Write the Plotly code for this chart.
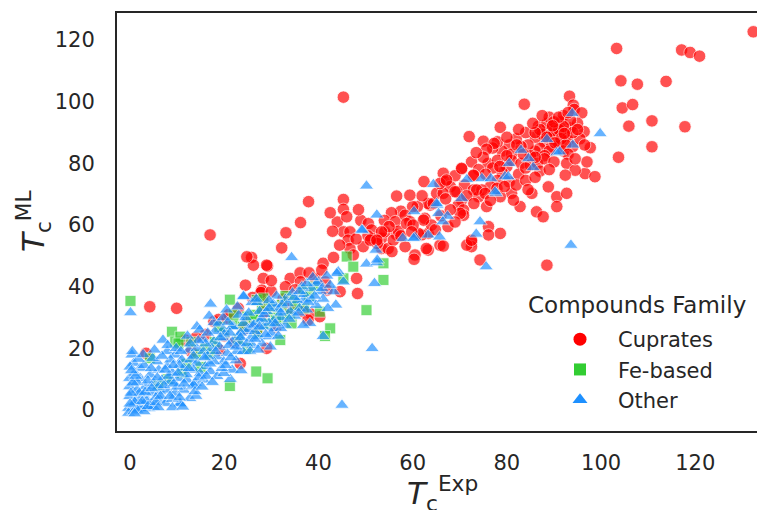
import plotly.graph_objects as go

# ---------------- data (T_c^Exp, T_c^ML) ----------------
cuprates_pts = [
    (132.3, 122.7), (103.3, 117.3), (117.1, 116.8), (118.9, 116.0), (120.9, 114.8),
    (104.2, 106.8), (107.7, 105.7), (113.8, 106.6), (104.5, 98.0), (106.7, 99.1),
    (105.9, 92.1), (110.8, 93.8), (117.8, 91.9), (110.8, 85.4), (103.7, 82.0),
    (97.7, 85.1), (96.6, 76.7), (98.7, 75.7), (93.3, 101.8), (83.7, 99.2),
    (94.1, 98.9), (94.3, 97.5), (95.9, 96.4), (78.6, 91.7), (72.0, 88.7),
    (86.7, 92.1), (96.4, 90.3),
    (88.5, 90.0), (89.5, 91.5), (90.5, 92.5), (91.5, 90.5), (92.5, 89.0), (90.0, 88.0),
    (88.0, 87.0), (91.0, 86.5), (93.0, 87.5), (89.5, 85.5), (87.0, 85.0), (92.0, 84.0),
    (94.0, 85.5), (86.0, 88.5), (90.5, 89.5), (93.5, 91.5), (91.5, 93.5), (88.5, 93.0),
    (87.5, 89.5), (86.0, 84.0), (84.5, 86.0), (85.0, 82.5), (83.0, 85.5), (82.0, 88.0),
    (84.0, 90.0), (80.5, 86.0), (79.0, 84.0), (81.0, 83.0), (78.0, 87.0), (77.0, 85.0),
    (75.0, 87.2), (77.3, 86.5), (75.7, 84.6), (82.1, 86.0), (95.5, 88.0), (95.0, 93.0),
    (89.0, 95.0), (92.0, 95.5), (93.5, 94.0),
    (89.0, 89.0), (90.0, 90.5), (91.0, 91.0), (92.0, 92.0), (90.0, 93.5), (91.5, 88.0),
    (92.5, 86.0), (89.0, 84.0), (88.0, 82.5), (93.0, 83.0), (94.0, 90.0), (95.0, 91.0),
    (91.0, 95.0), (93.0, 96.5), (87.0, 91.0), (86.0, 90.0), (88.5, 88.5), (90.2, 86.7),
    (92.2, 89.7), (89.7, 92.2),
    (72.5, 80.5), (70.4, 78.2), (66.5, 76.8), (66.9, 74.1), (62.4, 74.1), (76.0, 80.0),
    (78.0, 81.0), (80.0, 79.0), (79.0, 77.0), (77.0, 78.5), (81.0, 81.0), (83.0, 80.0),
    (85.0, 79.5), (74.0, 78.0), (73.0, 76.0), (75.5, 76.5), (78.0, 74.5), (80.5, 74.0),
    (82.5, 76.5), (84.0, 78.5), (86.5, 80.0), (88.0, 81.5), (90.0, 80.5), (87.0, 77.5),
    (89.0, 78.0), (92.7, 80.0), (94.5, 77.8), (92.4, 76.2), (71.0, 73.0), (69.0, 76.0),
    (68.0, 72.5), (76.5, 72.5),
    (88.8, 72.4), (90.6, 69.2), (92.7, 70.3), (90.6, 66.0), (86.3, 64.3), (87.7, 62.7),
    (85.3, 70.3), (82.8, 66.0), (81.0, 70.3), (81.4, 68.1), (78.6, 57.3), (72.5, 54.6),
    (72.5, 53.0), (74.3, 48.7), (88.5, 47.0), (76.1, 59.5), (76.1, 56.8), (63.7, 66.5),
    (62.6, 62.2), (63.3, 57.3), (61.9, 56.8), (65.8, 53.5), (63.3, 51.9), (69.4, 70.8),
    (70.4, 68.1), (69.7, 66.5), (72.9, 71.4), (74.0, 69.2), (75.7, 66.0), (74.7, 71.4),
    (70.8, 64.9), (70.8, 63.2), (71.5, 53.5), (72.5, 55.1),
    (63.3, 67.0), (64.4, 67.0), (65.1, 70.3), (66.5, 70.3), (65.8, 73.5), (67.2, 74.6),
    (69.0, 70.8), (70.4, 78.4), (72.9, 76.2), (73.6, 71.4), (75.4, 70.3), (77.9, 71.9),
    (78.6, 69.2), (70.1, 63.8),
    (57.5, 64.5), (61.0, 66.0), (64.0, 60.0), (66.0, 63.0), (68.0, 65.0), (67.0, 68.5),
    (71.5, 69.5), (73.0, 67.0), (76.5, 68.0), (79.5, 72.5), (82.0, 73.0), (84.0, 74.5),
    (86.0, 75.5), (78.5, 79.0), (75.0, 82.0), (73.5, 83.5), (80.0, 82.5), (83.5, 83.0),
    (86.0, 82.0), (84.5, 71.5), (62.0, 69.5), (60.0, 66.0), (55.5, 64.0), (67.5, 59.5),
    (69.0, 61.0), (64.8, 58.5), (56.5, 57.0), (54.0, 61.5), (49.0, 61.5), (44.0, 61.0),
    (42.5, 64.0), (48.5, 65.0), (80.0, 88.5), (82.5, 91.0), (85.5, 93.0), (87.5, 95.5),
    (96.5, 86.0), (97.0, 80.5), (94.5, 81.5),
    (56.6, 69.4), (59.4, 69.7), (45.3, 68.3), (45.3, 65.1), (46.0, 62.7), (37.9, 67.6),
    (36.2, 60.8), (33.1, 57.5), (32.2, 52.6), (25.8, 49.5), (26.2, 47.0), (29.2, 46.7),
    (28.3, 42.7), (28.0, 38.4), (28.3, 35.1), (34.0, 42.7), (36.1, 44.5), (36.2, 41.6),
    (39.3, 42.7), (41.4, 41.6), (41.0, 47.6), (43.2, 49.5), (41.8, 38.9), (45.3, 57.8),
    (46.7, 57.8), (46.3, 55.1), (46.7, 52.4), (48.1, 42.7), (48.3, 37.8), (47.4, 50.3),
    (50.6, 60.5), (51.3, 58.4), (51.3, 55.7), (53.4, 55.7), (53.4, 52.4), (54.8, 52.4),
    (54.1, 57.8), (56.3, 61.1), (58.4, 63.2), (59.4, 61.1), (62.3, 61.6), (61.2, 57.3),
    (58.4, 53.0), (60.5, 50.3), (60.3, 48.9), (62.9, 52.4), (55.9, 55.1), (40.3, 30.3),
    (38.2, 31.4), (66.5, 53.2), (40.7, 45.4), (44.6, 38.4), (45.3, 101.5), (50.5, 56.5),
    (52.5, 54.0), (57.0, 58.0), (55.0, 59.5), (57.5, 56.5), (49.5, 53.0), (48.0, 55.5),
    (44.5, 53.5), (43.0, 58.0), (51.0, 55.1), (53.4, 57.8), (52.4, 55.1), (55.6, 51.4),
    (58.7, 60.5), (60.1, 60.0), (59.8, 57.8),
    (17.0, 56.8), (24.8, 49.7), (29.0, 47.0), (28.0, 38.9), (4.2, 33.5), (9.9, 33.0),
    (11.7, 22.7), (3.4, 18.4), (29.0, 20.0), (23.4, 15.1), (36.7, 31.9), (37.8, 29.2),
    (17.8, 28.7), (18.8, 29.4), (20.6, 29.8), (27.8, 38.1), (28.4, 31.6), (30.0, 38.5),
    (32.5, 36.0), (34.0, 33.0), (24.0, 26.0), (20.0, 24.0), (13.0, 19.0),
    (21.0, 31.0), (23.0, 33.0), (25.0, 28.5), (26.0, 36.5), (22.2, 22.0), (19.0, 19.5),
    (16.0, 24.5), (14.0, 23.5), (27.0, 26.0), (31.0, 27.0), (33.0, 40.0), (35.0, 39.0),
    (38.0, 44.5), (30.0, 42.0), (24.5, 40.5),
]

fe_based_pts = [
    (0.1, 35.4), (21.2, 35.8), (24.9, 30.3), (26.6, 30.9), (30.5, 30.9), (31.9, 22.7),
    (8.9, 25.4), (9.6, 22.2), (10.7, 23.8), (10.3, 21.6), (4.2, 16.8), (26.8, 12.5),
    (29.2, 10.3), (21.2, 7.8), (46.0, 49.8), (47.4, 46.5), (53.8, 47.6), (53.8, 42.2),
    (50.2, 32.4), (45.3, 42.7), (40.3, 31.9), (42.5, 26.5), (41.4, 24.0), (26.9, 35.7),
    (28.3, 36.2), (32.2, 34.1), (32.5, 29.7), (34.3, 28.1), (26.2, 29.7), (34.0, 31.0),
    (36.8, 38.9), (12.0, 15.0), (14.0, 18.0), (16.0, 20.0), (18.0, 22.0), (20.0, 25.0),
    (22.0, 28.0), (24.0, 27.0), (28.0, 33.0), (30.0, 33.5), (33.0, 37.0), (35.0, 36.0),
    (38.0, 37.0), (22.0, 31.0), (19.0, 27.0), (15.0, 14.0), (11.0, 12.0), (8.0, 10.0),
    (6.0, 8.0), (17.0, 18.0), (25.0, 20.0), (27.0, 25.0), (29.0, 28.0), (31.0, 29.0),
    (23.0, 23.0), (13.0, 22.0), (39.0, 40.0), (37.0, 33.0), (35.0, 34.0),
]

other_pts = [
    (93.9, 96.2), (99.8, 89.7), (88.5, 87.8), (90.6, 83.5), (91.2, 83.8), (94.0, 86.0),
    (83.0, 84.3), (84.6, 81.6), (85.6, 78.7), (80.5, 80.0), (79.6, 75.7), (80.3, 75.7),
    (74.7, 75.1), (76.6, 75.1), (71.5, 74.8), (64.4, 73.2), (77.7, 70.3), (70.4, 68.7),
    (65.2, 66.5), (65.5, 63.8), (67.4, 62.9), (66.4, 61.1), (74.3, 61.1), (73.5, 57.1),
    (63.3, 56.8), (65.7, 56.2), (93.6, 53.5), (75.6, 46.5), (77.5, 70.8), (60.5, 56.0),
    (57.9, 55.7), (65.1, 67.0),
    (50.2, 72.7), (52.4, 63.3), (60.3, 64.4), (49.4, 58.3), (60.2, 55.7), (52.2, 51.9),
    (34.3, 49.5), (50.2, 47.4), (52.4, 47.8), (44.2, 44.9), (45.3, 41.6), (51.9, 41.1),
    (40.0, 41.6), (40.5, 38.4), (43.2, 38.4), (43.7, 34.1), (49.2, 58.4), (52.5, 48.7),
    (39.6, 41.1), (43.9, 44.3), (38.2, 28.1), (36.8, 35.7), (41.0, 23.9), (51.4, 20.0),
    (45.0, 1.6),
    (33.0, 36.0), (34.5, 38.0), (35.5, 35.5), (37.0, 37.5), (38.5, 36.0), (36.0, 33.0),
    (34.0, 32.0), (32.0, 30.0), (35.0, 30.5), (37.5, 32.5), (39.5, 34.0), (41.0, 36.0),
    (42.0, 33.0), (33.0, 27.5), (30.5, 29.0), (31.0, 33.5), (29.0, 32.0), (27.5, 29.0),
    (26.0, 27.5), (24.5, 25.5), (23.0, 24.0), (22.0, 27.0), (38.5, 39.5), (36.5, 40.0),
    (0.1, 31.6), (17.1, 34.4), (24.1, 37.0), (25.9, 34.9), (27.0, 34.9), (31.1, 37.0),
    (30.4, 34.4), (31.6, 32.7), (32.3, 34.1), (14.2, 27.1), (7.0, 22.7), (21.3, 10.0),
    (21.7, 13.0), (17.8, 28.4), (19.8, 26.2), (21.7, 27.1), (23.1, 30.8), (24.1, 28.1),
    (25.2, 26.2), (26.3, 27.6), (28.4, 26.9), (29.5, 28.2), (30.5, 26.5), (15.5, 23.0),
    (17.8, 22.2), (19.9, 23.3), (21.7, 22.2), (23.4, 21.7), (25.6, 23.3), (27.3, 23.8),
    (29.5, 23.8), (12.5, 19.5), (14.2, 20.0), (15.6, 19.0), (17.4, 20.0), (18.5, 17.3),
    (20.6, 18.4), (22.7, 19.0), (19.9, 15.7), (17.8, 15.7), (7.9, 19.0), (9.6, 17.9),
    (11.0, 16.3), (12.8, 16.3), (14.2, 15.2), (16.0, 14.1), (11.4, 13.6), (13.5, 13.0),
    (14.9, 11.9), (17.1, 12.5), (0.4, 17.9), (0.8, 15.2), (2.2, 13.6), (-0.1, 10.3),
    (2.2, 10.3), (4.3, 11.4), (6.1, 13.0), (7.9, 14.1), (5.7, 15.7), (8.6, 16.3),
    (-0.1, 7.6), (1.5, 6.5), (3.3, 7.6), (5.0, 8.7), (6.8, 9.8), (8.6, 9.2),
    (10.3, 10.3), (12.1, 9.8), (13.9, 8.7), (15.6, 9.8), (18.5, 10.9), (19.9, 11.9),
    (-0.1, 4.4), (1.5, 3.8), (2.9, 4.9), (4.7, 5.5), (6.4, 6.0), (7.9, 6.5),
    (9.6, 5.5), (11.4, 6.5), (13.2, 7.6), (-0.3, 0.6), (0.8, 1.7), (2.5, 1.7),
    (4.3, 2.2), (6.4, 3.3), (7.5, 2.2), (10.7, 2.0), (13.5, 8.1), (-0.3, -1.0),
    (0.8, -0.5), (2.2, 0.6), (12.7, 3.8), (10.6, 2.2), (24.1, 36.8),
    (1.0, 12.0), (3.0, 14.5), (0.5, 19.0), (1.5, 9.0), (3.5, 3.0), (5.5, 4.0),
    (9.0, 3.5), (9.0, 12.0), (10.5, 14.5), (12.0, 11.5), (6.0, 7.5), (4.0, 0.5),
    (1.0, 2.5), (2.0, 5.5), (16.5, 17.5), (19.0, 20.5), (21.0, 21.0), (23.5, 25.0),
    (26.5, 25.5), (28.0, 29.5), (27.5, 32.0), (29.5, 35.5), (20.0, 24.5), (18.0, 25.5),
    (16.0, 21.5), (22.5, 16.0), (24.0, 19.0), (26.0, 21.0), (28.0, 21.5), (30.0, 25.0),
    (32.0, 26.5), (10.0, 7.5), (14.0, 4.5), (1.5, 0.0), (3.0, -0.5), (5.0, 1.0),
    (0.0, 2.0), (0.0, 14.0),
    (0.2, 5.5), (0.6, 8.8), (1.2, 11.0), (1.8, 16.5), (2.8, 18.0), (3.8, 9.5),
    (4.5, 13.5), (3.2, 5.8), (0.3, 12.8), (4.8, 16.8), (2.6, 2.8), (1.0, -1.2),
    (3.8, 1.2), (4.6, 7.0),
    (5.5, 2.5), (6.5, 4.5), (7.2, 8.0), (8.2, 11.0), (9.2, 14.5), (5.8, 10.5),
    (6.8, 17.5), (8.0, 21.0), (9.8, 20.0), (5.2, 19.5), (9.3, 8.5), (8.5, 4.5),
    (6.0, 0.8), (7.5, 13.0), (9.0, 0.8),
    (10.5, 4.0), (11.5, 8.5), (12.5, 13.5), (13.5, 17.5), (14.5, 22.5), (10.8, 19.0),
    (12.2, 24.0), (14.6, 10.5), (13.8, 6.0), (11.2, 1.0), (12.8, 21.5), (10.2, 12.0),
    (14.8, 26.0),
    (15.3, 7.5), (16.2, 11.0), (17.0, 15.0), (18.2, 19.0), (19.2, 23.5), (16.5, 25.0),
    (18.8, 28.0), (15.8, 17.0), (19.5, 13.5), (17.5, 9.0), (16.8, 30.5), (19.8, 30.0),
    (20.3, 14.5), (21.4, 17.0), (22.5, 20.5), (23.5, 23.5), (24.5, 30.0), (20.8, 28.5),
    (22.8, 33.5), (24.8, 21.5), (21.2, 25.0), (23.6, 12.8), (20.5, 32.5),
    (25.5, 19.0), (26.5, 23.0), (27.5, 27.0), (28.5, 31.0), (29.5, 33.0), (25.2, 31.5),
    (26.8, 36.0), (28.8, 24.5), (29.8, 20.5), (27.2, 19.5),
    (30.8, 28.0), (32.0, 31.5), (33.5, 34.5), (34.8, 36.5), (36.0, 38.5), (37.5, 41.0),
    (31.5, 24.0), (33.8, 29.5), (35.8, 31.5), (37.8, 35.0), (39.2, 37.0), (40.8, 39.5),
    (42.5, 40.5), (38.8, 43.0), (41.8, 43.5), (36.8, 27.5),
]

families = ["Cuprates", "Fe-based", "Other"]
tick_vals = [0, 20, 40, 60, 80, 100, 120]
tick_text = ["0", "20", "40", "60", "80", "100", "120"]

cuprates_x = [p[0] for p in cuprates_pts]
cuprates_y = [p[1] for p in cuprates_pts]
fe_x = [p[0] for p in fe_based_pts]
fe_y = [p[1] for p in fe_based_pts]
other_x = [p[0] for p in other_pts]
other_y = [p[1] for p in other_pts]

# ---------------- styling ----------------
FONT = "DejaVu Sans"
TXT = "#262626"
colors = {"Cuprates": "#FF0000", "Fe-based": "#32CD32", "Other": "#1E90FF"}
symbols = {"Cuprates": "circle", "Fe-based": "square", "Other": "triangle-up"}
sizes = {"Cuprates": 12.5, "Fe-based": 11, "Other": 12.5}
series = {"Cuprates": (cuprates_x, cuprates_y),
          "Fe-based": (fe_x, fe_y),
          "Other": (other_x, other_y)}

fig = go.Figure()
for fam in families:
    xs, ys = series[fam]
    fig.add_trace(go.Scatter(
        x=xs, y=ys, mode="markers", name=fam, showlegend=False,
        marker=dict(symbol=symbols[fam], size=sizes[fam], color=colors[fam],
                    opacity=0.68, line=dict(color="white", width=0.8)),
        hoverinfo="skip"))
# legend-only entries (solid symbols, as in the reference legend)
for fam in families:
    fig.add_trace(go.Scatter(
        x=[None], y=[None], mode="markers", name=fam, showlegend=True,
        marker=dict(symbol=symbols[fam], size=13 if fam != "Fe-based" else 12,
                    color=colors[fam], line=dict(width=0))))

W, H = 757, 510
ml, mr, mt, mb = 117, 0, 13, 79
plot_h = H - mt - mb
plot_w = W - ml - mr

def py2paper(py):
    return (H - mb - py) / plot_h

def px2paper(px):
    return (px - ml) / plot_w

fig.update_layout(
    width=W, height=H,
    margin=dict(l=ml, r=mr, t=mt, b=mb),
    paper_bgcolor="white", plot_bgcolor="white",
    font=dict(family=FONT, size=21, color=TXT),
    showlegend=True,
    legend=dict(x=px2paper(542), y=py2paper(319), xanchor="left", yanchor="top",
                bgcolor="rgba(0,0,0,0)", font=dict(size=21, color=TXT),
                itemwidth=66, tracegroupgap=0),
    xaxis=dict(range=[-2.76, 133.1], tickvals=tick_vals, ticktext=tick_text,
               showgrid=False, zeroline=False, showline=True, linecolor=TXT,
               linewidth=2, mirror=True, ticks="", ticklabelstandoff=12,
               tickfont=dict(size=21, color=TXT)),
    yaxis=dict(range=[-6.8, 128.8], tickvals=tick_vals, ticktext=tick_text,
               showgrid=False, zeroline=False, showline=True, linecolor=TXT,
               linewidth=2, mirror=False, ticks="", ticklabelstandoff=16,
               tickfont=dict(size=21, color=TXT)),
    annotations=[
        dict(text="Compounds Family", x=px2paper(637), y=py2paper(305),
             xref="paper", yref="paper", xanchor="center", yanchor="middle",
             showarrow=False, font=dict(size=23, color=TXT)),
        dict(text="<i>T</i><sub>c</sub><sup>Exp</sup>", x=px2paper(442), y=py2paper(493),
             xref="paper", yref="paper", xanchor="center", yanchor="middle",
             showarrow=False, font=dict(size=31, color=TXT)),
        dict(text="<i>T</i><sub>c</sub><sup>ML</sup>", x=px2paper(33), y=py2paper(221),
             xref="paper", yref="paper", xanchor="center", yanchor="middle",
             textangle=-90, showarrow=False, font=dict(size=31, color=TXT)),
    ],
)

fig.write_html("out.html",
               config={"displayModeBar": False},
               post_script="document.body.style.margin='0';"
                           "document.body.style.overflow='hidden';")
